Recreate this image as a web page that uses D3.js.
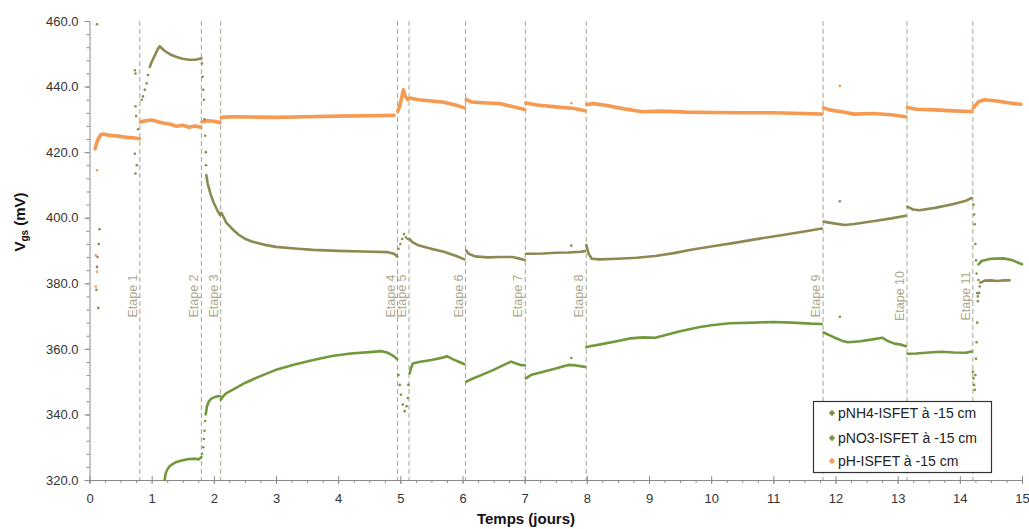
<!DOCTYPE html>
<html><head><meta charset="utf-8">
<script src="https://cdn.jsdelivr.net/npm/d3@7"></script>
<style>body{margin:0;background:#fff;} svg{display:block;font-family:"Liberation Sans",Arial,sans-serif;}</style>
</head><body><svg id="c" width="1029" height="529"></svg>
<script>
// ---------- data ----------
const xTicks = [0,1,2,3,4,5,6,7,8,9,10,11,12,13,14,15];
const yTicks = [320,340,360,380,400,420,440,460];
const etapes = [0.81,1.80,2.11,4.955,5.14,6.05,7.01,7.99,11.80,13.15,14.21];
const etapeLabels = ["Etape 1","Etape 2","Etape 3","Etape 4","Etape 5","Etape 6","Etape 7","Etape 8","Etape 9","Etape 10","Etape 11"];
const seriesNames = ["pNH4-ISFET à -15 cm","pNO3-ISFET à -15 cm","pH-ISFET à -15 cm"];

// pNH4 (null = break between segments)
const pNH4 = [
 [0.97,446],[1.0,447.5],[1.05,449.5],[1.1,451.5],[1.13,452.3],[1.2,451],[1.3,449.8],[1.4,449],[1.5,448.5],[1.6,448.2],[1.7,448.2],[1.8,448.6],null,
 [1.88,413],[1.9,410.5],[1.95,407],[2.0,404.5],[2.05,402.5],[2.1,400.8],null,
 [2.12,401.5],[2.15,400.5],[2.2,398.5],[2.3,396.5],[2.4,394.8],[2.5,393.6],[2.6,392.8],[2.8,391.8],[3.0,391.1],[3.3,390.6],[3.6,390.2],[4.0,389.9],[4.4,389.7],[4.8,389.5],[4.9,389.0],[4.95,388.2],null,
 [5.15,393.5],[5.2,392.5],[5.3,391.5],[5.5,390.5],[5.7,389.6],[5.9,388.3],[6.03,387.3],null,
 [6.06,390],[6.1,389],[6.2,388.2],[6.4,387.9],[6.6,388],[6.8,388],[6.9,387.6],[7.0,387.1],null,
 [7.02,389],[7.1,389],[7.3,389.1],[7.5,389.3],[7.7,389.4],[7.9,389.6],[7.97,389.8],null,
 [7.99,391.7],[8.03,389],[8.08,387.5],[8.2,387.3],[8.5,387.5],[8.8,387.8],[9.1,388.3],[9.4,389.2],[9.7,390.3],[10.0,391.2],[10.4,392.4],[10.8,393.7],[11.2,394.9],[11.5,395.8],[11.78,396.7],null,
 [11.81,398.8],[11.9,398.5],[12.0,398.2],[12.15,397.8],[12.3,398.1],[12.6,398.9],[12.9,399.8],[13.13,400.6],null,
 [13.16,403.3],[13.25,402.5],[13.35,402.3],[13.6,403],[13.9,404.2],[14.1,405.2],[14.19,406],null,
 [14.33,380.2],[14.4,380.8],[14.5,380.9],[14.6,380.7],[14.7,380.9],[14.8,380.9]
];
const pNH4_scatter = [
 [0.12,459],[0.16,396.5],[0.15,392],[0.13,388],[0.12,385],[0.14,372.5],[0.11,378],
 [0.73,445],[0.74,444],[0.74,434],[0.75,431],[0.73,419.5],[0.74,413.5],[0.76,416],[0.78,427],
 [0.84,436],[0.86,437],[0.89,439],[0.92,441],[0.94,443.5],
 [1.81,447],[1.82,443],[1.83,439],[1.84,436],[1.85,430],[1.86,425],[1.87,420],[1.875,416],
 [4.97,390.5],[5.0,392],[5.03,393.5],[5.06,395],[5.09,394],[5.12,393.5],
 [7.75,391.5],[12.07,405],
 [14.22,404],[14.23,401],[14.24,398],[14.25,392],[14.26,387],[14.27,383],[14.28,377],[14.29,374.5],[14.31,377],[14.32,379]
];

// pNO3
const pNO3 = [
 [1.21,320],[1.22,321.5],[1.24,322.8],[1.27,323.8],[1.3,324.4],[1.35,325],[1.4,325.5],[1.5,326],[1.6,326.4],[1.7,326.5],[1.76,326.3],[1.8,327],null,
 [1.87,340],[1.89,342.5],[1.92,344],[1.96,344.8],[2.0,345.2],[2.05,345.5],[2.1,345.6],null,
 [2.11,344.5],[2.15,345.5],[2.2,346.5],[2.3,347.5],[2.5,349.6],[2.7,351.3],[3.0,353.6],[3.3,355.2],[3.6,356.6],[3.9,357.8],[4.2,358.6],[4.5,359],[4.7,359.3],[4.8,358.8],[4.9,357.7],[4.95,356.8],null,
 [5.15,352.5],[5.17,354],[5.2,355.5],[5.3,356],[5.5,356.6],[5.7,357.4],[5.75,357.8],[5.85,356.8],[5.95,356],[6.03,355.3],null,
 [6.06,350],[6.15,350.8],[6.3,352],[6.5,353.6],[6.7,355.4],[6.78,356.1],[6.85,355.6],[6.95,355],[7.0,355],null,
 [7.02,351],[7.1,352],[7.3,353],[7.5,354],[7.7,355.1],[7.8,355],[7.97,354.5],null,
 [7.99,360.5],[8.05,360.8],[8.2,361.3],[8.5,362.4],[8.7,363.2],[8.9,363.5],[9.1,363.4],[9.3,364.4],[9.5,365.4],[9.8,366.6],[10.0,367.2],[10.3,367.8],[10.7,368],[11.0,368.2],[11.3,368],[11.6,367.7],[11.78,367.6],null,
 [11.81,365],[11.9,364.2],[12.0,363.3],[12.1,362.5],[12.2,362],[12.4,362.3],[12.6,362.9],[12.75,363.4],[12.85,362.3],[12.95,361.6],[13.05,361.3],[13.13,360.8],null,
 [13.16,358.5],[13.3,358.6],[13.5,358.9],[13.7,359.1],[13.9,358.9],[14.1,358.8],[14.19,359.2],null,
 [14.3,385.8],[14.35,386.8],[14.5,387.5],[14.7,387.6],[14.85,387],[14.95,386.2],[15.0,385.8]
];
const pNO3_scatter = [
 [1.81,328],[1.83,330],[1.84,332.5],[1.85,335],[1.86,338],
 [4.97,352],[4.99,349],[5.01,346],[5.04,343],[5.07,341],[5.1,342.5],[5.12,345],[5.13,349],
 [7.75,357.2],[12.07,369.8],
 [14.21,353],[14.22,351],[14.23,349],[14.24,347.5],[14.25,352],[14.26,357],[14.27,362],[14.28,368],[14.29,376],[14.3,381]
];

// pH
const pH = [
 [0.09,421],[0.11,422.5],[0.14,424],[0.18,425.3],[0.22,425.5],[0.3,425.2],[0.4,425],[0.5,424.8],[0.6,424.5],[0.7,424.4],[0.8,424.1],null,
 [0.82,429.2],[0.9,429.6],[1.0,429.8],[1.1,429.3],[1.2,428.8],[1.3,428.5],[1.4,427.9],[1.5,428.2],[1.6,427.6],[1.7,428],[1.79,427.6],null,
 [1.81,429.2],[1.9,429.6],[2.0,429.4],[2.1,429],null,
 [2.12,430.6],[2.3,430.8],[2.6,430.7],[3.0,430.6],[3.5,430.8],[4.0,431],[4.5,431.1],[4.9,431.2],null,
 [4.96,432.5],[4.99,434],[5.02,436.5],[5.05,439],[5.08,437],[5.12,436],null,
 [5.15,436.5],[5.3,436],[5.5,435.6],[5.7,435.2],[5.9,434.3],[6.03,433.5],null,
 [6.06,436],[6.15,435.3],[6.4,435],[6.6,434.8],[6.8,433.9],[7.0,433],null,
 [7.02,435],[7.2,434.4],[7.5,433.8],[7.8,433.3],[7.97,432.6],null,
 [8.0,434.5],[8.1,434.8],[8.3,434.3],[8.6,433.2],[8.9,432.3],[9.2,432.5],[9.6,432.2],[10.0,432.1],[10.5,432],[11.0,432],[11.5,431.8],[11.78,431.6],null,
 [11.81,433.5],[11.9,432.9],[12.1,432.3],[12.3,431.6],[12.6,431.8],[12.9,431.4],[13.13,430.8],null,
 [13.16,433.6],[13.3,433.1],[13.6,432.9],[13.9,432.6],[14.19,432.4],null,
 [14.22,433.5],[14.3,435.4],[14.4,436],[14.6,435.6],[14.8,435],[14.98,434.6]
];
const pH_scatter = [[0.12,414.5],[0.1,388.5],[0.12,383.5],[0.1,379],[7.75,434.9],[12.07,440.2]];

// ---------- drawing ----------
const colors = ["#8c8a52","#72983c","#f59a52"];
const svg = d3.select("#c");
const x = d3.scaleLinear().domain([0,15]).range([89.5,1022]);
const y = d3.scaleLinear().domain([320,460]).range([480,21]);
const axisColor = "#8a8a8a";

// etape dashed lines
const eg = svg.append("g");
eg.selectAll("line").data(etapes).join("line")
 .attr("x1",d=>x(d)).attr("x2",d=>x(d)).attr("y1",y(460)).attr("y2",y(320))
 .attr("stroke","#a8a38a").attr("stroke-width",1).attr("stroke-dasharray","5,3");
eg.selectAll("text").data(etapes).join("text")
 .attr("transform",d=>`translate(${x(d)-3},296) rotate(-90)`)
 .attr("text-anchor","middle").attr("font-size",12.5).attr("fill","#aca78c")
 .text((d,i)=>etapeLabels[i]);

// axes
const xMinor = d3.range(0,15.001,0.25);
const yMinor = d3.range(320,460.001,4);
const ax = svg.append("g").attr("transform",`translate(0,${y(320)})`);
ax.call(d3.axisBottom(x).tickValues(xMinor).tickSize(3).tickFormat(""));
ax.call(g=>g.select(".domain").attr("stroke",axisColor));
ax.selectAll(".tick line").attr("stroke",axisColor);
const axM = svg.append("g").attr("transform",`translate(0,${y(320)})`)
 .call(d3.axisBottom(x).tickValues(xTicks).tickSize(4).tickPadding(10).tickFormat(d3.format("d")));
axM.select(".domain").remove();
axM.selectAll(".tick line").attr("y1",-4).attr("stroke",axisColor);
axM.selectAll(".tick text").attr("font-size",13).attr("fill","#333").attr("font-family","Liberation Sans, Arial, sans-serif");

const ay = svg.append("g").attr("transform",`translate(${x(0)},0)`);
ay.call(d3.axisLeft(y).tickValues(yMinor).tickSize(3).tickFormat(""));
ay.select(".domain").attr("stroke",axisColor);
ay.selectAll(".tick line").attr("stroke",axisColor);
const ayM = svg.append("g").attr("transform",`translate(${x(0)},0)`)
 .call(d3.axisLeft(y).tickValues(yTicks).tickSize(5).tickPadding(6).tickFormat(d3.format(".1f")));
ayM.select(".domain").remove();
ayM.selectAll(".tick line").attr("stroke",axisColor);
ayM.selectAll(".tick text").attr("font-size",13).attr("fill","#333").attr("font-family","Liberation Sans, Arial, sans-serif");

// titles
svg.append("text").attr("x",526).attr("y",524).attr("text-anchor","middle")
 .attr("font-size",15).attr("font-weight","bold").attr("fill","#111").text("Temps (jours)");
const yt = svg.append("text").attr("transform","translate(25,222) rotate(-90)").attr("text-anchor","middle")
 .attr("font-size",15).attr("font-weight","bold").attr("fill","#111");
yt.append("tspan").text("V");
yt.append("tspan").attr("font-size",10).attr("dy",3).text("gs");
yt.append("tspan").attr("dy",-3).text(" (mV)");

// series
const line = d3.line().defined(d=>d!==null).x(d=>x(d[0])).y(d=>y(d[1]));
const lines = [pNH4,pNO3,pH];
const scatters = [pNH4_scatter,pNO3_scatter,pH_scatter];
const widths = [2.6,2.6,3.6];
const plot = svg.append("g");
[2,0,1].forEach(i=>{
  plot.append("path").datum(lines[i]).attr("d",line).attr("fill","none")
   .attr("stroke",colors[i]).attr("stroke-width",widths[i]).attr("stroke-linejoin","round").attr("stroke-linecap","round");
  plot.append("g").selectAll("circle").data(scatters[i]).join("circle")
   .attr("cx",d=>x(d[0])).attr("cy",d=>y(d[1])).attr("r",1.3).attr("fill",colors[i]);
});

// legend
const lg = svg.append("g");
lg.append("rect").attr("x",813.5).attr("y",401.5).attr("width",178).attr("height",71)
 .attr("fill","#fff").attr("stroke","#333").attr("stroke-width",1.2);
const rows = [413,438,461];
seriesNames.forEach((n,i)=>{
  lg.append("path").attr("d",d3.symbol(d3.symbolDiamond2,26)())
   .attr("transform",`translate(832,${rows[i]})`).attr("fill",colors[i]);
  lg.append("text").attr("x",838).attr("y",rows[i]+5).attr("font-size",14).attr("fill","#222").text(n);
});
</script></body></html>
